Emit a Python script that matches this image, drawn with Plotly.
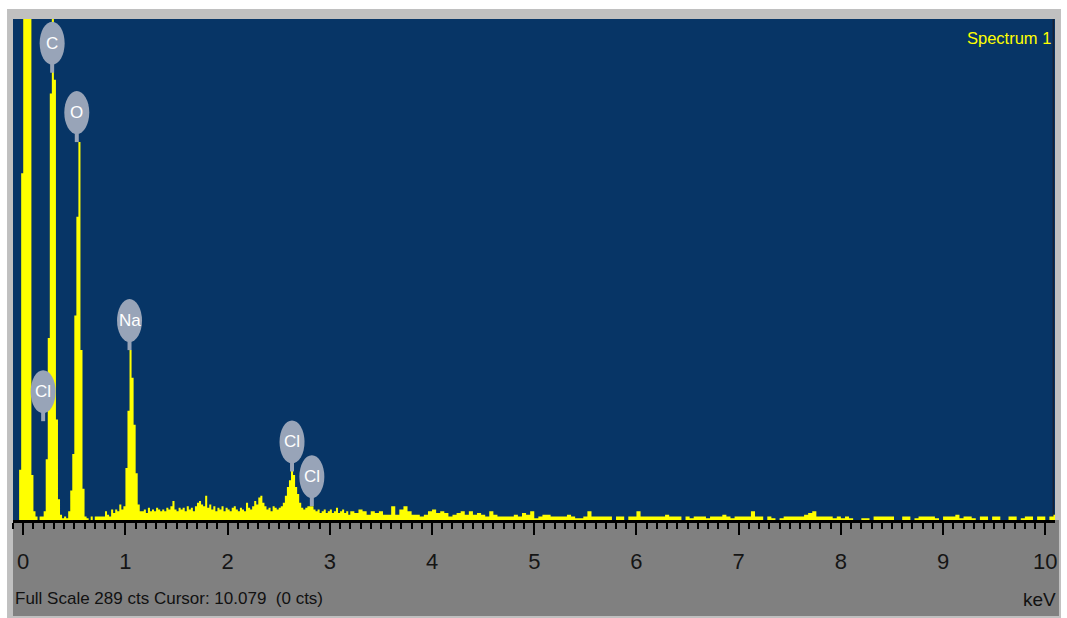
import plotly.graph_objects as go

# ---------------- data ----------------
# spectrum segment A: -0.10 .. 1.16 keV, 0.02 keV channels
seg_a_start = -0.10
seg_a_width = 0.02
seg_a_counts = [0, 0, 0, 29, 200, 480, 700, 620, 400, 26,
                5, 2, 0, 2, 2, 5, 35, 105, 246, 340,
                254, 58, 12, 3, 1, 2, 1, 5, 17, 38,
                118, 175, 218, 98, 18, 2, 1, 0, 2, 0,
                2, 2, 2, 2, 2, 5, 3, 2, 6, 4,
                6, 5, 9, 6, 8, 30, 63, 98, 82, 55,
                27, 9, 5]

# spectrum segment B: 1.16 .. 3.20 keV, 0.02 keV channels
seg_b_start = 1.16
seg_b_width = 0.02
seg_b_counts = [5, 6, 4, 7, 5, 6, 5, 7, 6, 5,
                6, 5, 7, 6, 8, 11, 6, 5, 7, 6,
                7, 5, 8, 6, 7, 5, 8, 10, 11, 9,
                8, 14, 7, 9, 6, 8, 5, 7, 6, 8,
                5, 7, 6, 5, 7, 8, 6, 5, 7, 6,
                5, 10, 7, 6, 8, 11, 9, 13, 14, 10,
                8, 6, 7, 5, 8, 7, 6, 7, 8, 10,
                14, 19, 23, 29, 26, 19, 15, 10, 7, 6,
                7, 8, 8, 8, 6, 5, 6, 4, 5, 6,
                4, 5, 6, 4, 5, 7, 4, 5, 6, 4, 5, 3]

# spectrum segment C: 3.20 .. 10.12 keV, 0.04 keV channels
seg_c_start = 3.20
seg_c_width = 0.04
seg_c_counts = [5, 4, 6, 5, 3, 5, 4, 5, 3, 3,
                8, 3, 6, 8, 5, 3, 3, 2, 3, 5,
                6, 4, 5, 4, 2, 3, 4, 5, 3, 5,
                3, 4, 3, 2, 5, 3, 2, 2, 2, 2,
                3, 2, 4, 3, 5, 1, 2, 3, 3, 2,
                2, 2, 2, 3, 2, 1, 1, 2, 5, 2,
                2, 2, 2, 2, 0, 2, 2, 0, 2, 2,
                5, 2, 2, 2, 2, 2, 2, 3, 2, 2,
                2, 0, 2, 1, 2, 2, 2, 1, 2, 2,
                2, 3, 2, 1, 2, 2, 2, 2, 5, 2,
                2, 0, 2, 1, 0, 1, 2, 2, 2, 2,
                2, 3, 4, 5, 2, 2, 2, 2, 1, 2,
                1, 2, 1, 0, 0, 1, 1, 0, 2, 2,
                2, 2, 2, 0, 0, 2, 2, 0, 1, 2,
                2, 2, 2, 1, 0, 2, 2, 2, 3, 1,
                2, 2, 1, 0, 2, 2, 0, 2, 2, 0,
                0, 2, 2, 0, 1, 2, 2, 0, 2, 2,
                0, 2, 3]

# element markers
label_names = ["Cl", "C", "O", "Na", "Cl", "Cl"]
label_energy = [0.195, 0.283, 0.524, 1.040, 2.630, 2.824]
label_counts = [57, 258, 218, 98, 28, 8]

x_ticks = [0, 1, 2, 3, 4, 5, 6, 7, 8, 9, 10]
full_scale = 289
cursor_kev = 10.079
title_text = "Spectrum 1"
status_text = "Full Scale 289 cts Cursor: 10.079 \u00a0(0 cts)"
unit_text = "keV"

# ---------------- build step series ----------------
xs, ys = [], []
for start, width, counts in [(seg_a_start, seg_a_width, seg_a_counts),
                             (seg_b_start, seg_b_width, seg_b_counts),
                             (seg_c_start, seg_c_width, seg_c_counts)]:
    for i, c in enumerate(counts):
        xs.append(round(start + i * width, 4))
        ys.append(c)
xs.append(round(seg_c_start + len(seg_c_counts) * seg_c_width, 4))
ys.append(seg_c_counts[-1])

FONT = "Liberation Sans, Arial, sans-serif"
YELLOW = "#ffff00"
NAVY = "#073566"
BADGE = "#98a4b8"

# plot area in page pixels
L, R, T, B = 13, 1058, 19, 520
W, H = R - L, B - T


def px_x(p):
    return (p - L) / W


def px_y(p):
    return (B - p) / H


fig = go.Figure()
fig.add_trace(go.Scatter(
    x=xs, y=ys, mode="lines",
    line=dict(shape="hv", width=0, color=YELLOW),
    fill="tozeroy", fillcolor=YELLOW,
    hoverinfo="skip", showlegend=False))

shapes = [
    # outer light-gray frame
    dict(type="rect", xref="paper", yref="paper", x0=px_x(7), x1=px_x(1064),
         y0=px_y(618), y1=px_y(9), fillcolor="#c0c0c0", line=dict(width=0), layer="below"),
    # dark-gray axis panel
    dict(type="rect", xref="paper", yref="paper", x0=px_x(13), x1=px_x(1062),
         y0=px_y(616), y1=px_y(520), fillcolor="#808080", line=dict(width=0), layer="below"),
    # navy plot area
    dict(type="rect", xref="paper", yref="paper", x0=0, x1=1, y0=0, y1=1,
         fillcolor=NAVY, line=dict(width=0), layer="below"),
    # cursor
    dict(type="line", xref="x", yref="paper", x0=cursor_kev, x1=cursor_kev, y0=0, y1=1,
         line=dict(color="#1a2233", width=1.5), layer="below"),
]

annotations = []
for name, e, c in zip(label_names, label_energy, label_counts):
    shapes.append(dict(type="rect", xref="x", yref="y", xsizemode="pixel", ysizemode="pixel",
                       xanchor=e, yanchor=c, x0=-2, x1=2, y0=0, y1=9,
                       fillcolor=BADGE, line=dict(width=0), layer="above"))
    shapes.append(dict(type="circle", xref="x", yref="y", xsizemode="pixel", ysizemode="pixel",
                       xanchor=e, yanchor=c, x0=-12.5, x1=12.5, y0=8, y1=51,
                       fillcolor=BADGE, line=dict(width=0), layer="above"))
    annotations.append(dict(x=e, y=c, xref="x", yref="y", yshift=29.5, text=name,
                            showarrow=False, xanchor="center", yanchor="middle",
                            font=dict(family=FONT, size=17, color="white")))

annotations += [
    dict(x=px_x(1056), y=px_y(38), xref="paper", yref="paper", text=title_text,
         showarrow=False, xanchor="right", yanchor="middle",
         font=dict(family=FONT, size=16.5, color=YELLOW)),
    dict(x=px_x(13), y=px_y(598), xref="paper", yref="paper", text=status_text,
         showarrow=False, xanchor="left", yanchor="middle",
         font=dict(family=FONT, size=17, color="#111111")),
    dict(x=px_x(1061), y=px_y(599), xref="paper", yref="paper", text=unit_text,
         showarrow=False, xanchor="right", yanchor="middle",
         font=dict(family=FONT, size=19, color="#111111")),
]

fig.update_layout(
    width=1067, height=618,
    margin=dict(l=L, r=1067 - R, t=T, b=618 - B, pad=0),
    paper_bgcolor="white", plot_bgcolor="rgba(0,0,0,0)",
    showlegend=False,
    shapes=shapes, annotations=annotations,
    xaxis=dict(range=[-0.1, 10.095], tickmode="array", tickvals=x_ticks,
               ticktext=[str(t) for t in x_ticks],
               showgrid=False, zeroline=False,
               ticks="outside", ticklen=12, tickwidth=2, tickcolor="black",
               showline=True, linecolor="black", linewidth=3,
               ticklabelstandoff=8,
               tickfont=dict(family=FONT, size=22, color="#151515"),
               minor=dict(ticks="outside", tick0=0, dtick=0.1, ticklen=6,
                          tickwidth=1.5, tickcolor="black", showgrid=False),
               fixedrange=True),
    yaxis=dict(range=[0, full_scale], visible=False, showgrid=False, zeroline=False,
               fixedrange=True),
)

fig.write_html("out.html",
               config={"displayModeBar": False},
               post_script="document.body.style.margin='0';document.body.style.padding='0';")
